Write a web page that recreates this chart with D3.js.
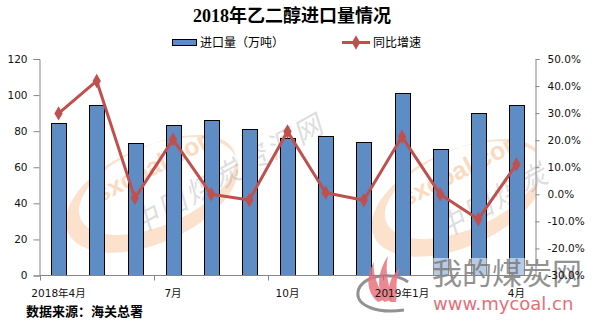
<!DOCTYPE html>
<html>
<head>
<meta charset="utf-8">
<script src="https://cdn.jsdelivr.net/npm/d3@7"></script>
<style>
  body { margin: 0; background: #fff; }
  svg { display: block; }
  .tick text { font-family: "DejaVu Sans", "Noto Sans CJK SC", sans-serif; font-size: 10.5px; fill: #111; }
</style>
</head>
<body>
<svg id="chart" width="601" height="322"></svg>
<script>
// Monthly ethylene glycol imports, Apr 2018 – Apr 2019
const months = ["2018-04", "2018-05", "2018-06", "2018-07", "2018-08", "2018-09", "2018-10",
                "2018-11", "2018-12", "2019-01", "2019-02", "2019-03", "2019-04"];
const importVolume = [84.4, 94.3, 73.3, 83.3, 86.0, 81.1, 76.1, 77.2, 73.9, 101.0, 70.0, 89.9, 94.3]; // 万吨
const yoyGrowth = [29.9, 41.9, -1.4, 20.3, 0.0, -2.1, 23.2, 0.6, -2.2, 21.3, 0.0, -9.2, 11.1];        // %
const xLabelIndex = [0, 3, 6, 9, 12];
const xLabelText = ["2018年4月", "7月", "10月", "2019年1月", "4月"];
const leftTicks = [0, 20, 40, 60, 80, 100, 120];
const rightTicks = [-30, -20, -10, 0, 10, 20, 30, 40, 50];

const svg = d3.select("#chart");
const plot = { left: 39.5, right: 535.5, top: 59, bottom: 275.5 };

const x = d3.scaleBand().domain(d3.range(months.length)).range([plot.left, plot.right]).padding(0);
const yL = d3.scaleLinear().domain([0, 120]).range([plot.bottom, plot.top]);
const yR = d3.scaleLinear().domain([-30, 50]).range([plot.bottom, plot.top]);
const axisColor = "#868686";

// ---- background watermark (sxcoal) ----
svg.append("defs").append("clipPath").attr("id", "plotClip")
  .append("rect").attr("x", 0).attr("y", 0).attr("width", plot.right).attr("height", 322);

function sxcoalMark(g, name, clipRing) {
  const ell = (cx, cy, rx, ry) =>
    `M${cx - rx},${cy} a${rx},${ry} 0 1,0 ${2 * rx},0 a${rx},${ry} 0 1,0 ${-2 * rx},0 Z`;
  // crescent ring
  const ringHolder = clipRing ? g.append("g").attr("clip-path", "url(#plotClip)") : g;
  ringHolder.append("g").attr("transform", g.attr("data-t"))
    .append("path")
    .attr("d", ell(0, 0, 92, 48) + ell(9, -7, 84, 40))
    .attr("fill-rule", "evenodd")
    .attr("transform", "rotate(-24)")
    .attr("fill", "#f8b483").attr("opacity", 0.4);
  const t = g.append("g").attr("transform", g.attr("data-t"));
  t.append("text")
    .attr("transform", "translate(-52,8) rotate(-27)")
    .attr("font-family", "Liberation Sans, Arial, sans-serif")
    .attr("font-weight", "bold").attr("font-size", 25)
    .attr("fill", "#f7a86a").attr("opacity", 0.42)
    .text("sxcoal.com");
  t.append("text")
    .attr("transform", "translate(-14,40) rotate(-29) skewX(-12)")
    .attr("font-family", "Noto Sans CJK SC, sans-serif")
    .attr("font-size", 28).attr("letter-spacing", 3)
    .attr("fill", "#9a9a9a").attr("opacity", 0.32)
    .text(name);
}
sxcoalMark(svg.append("g").attr("data-t", "translate(152,195)"), "中国煤炭资源网", false);
sxcoalMark(svg.append("g").attr("data-t", "translate(458,199)"), "中国煤炭", true);

// ---- bars ----
const barW = x.bandwidth() * 0.385;
svg.append("g").selectAll("rect").data(importVolume).join("rect")
  .attr("x", (d, i) => Math.round(x(i) + x.bandwidth() / 2 - barW / 2) + 0.5)
  .attr("y", d => Math.round(yL(d)) + 0.5)
  .attr("width", Math.round(barW))
  .attr("height", d => plot.bottom - Math.round(yL(d)) - 0.5)
  .attr("fill", "#5e8cc4").attr("stroke", "#000").attr("stroke-width", 1);

// ---- growth line ----
const red = "#c0504d";
const line = d3.line().x((d, i) => x(i) + x.bandwidth() / 2).y(d => yR(d));
svg.append("path").datum(yoyGrowth).attr("d", line)
  .attr("fill", "none").attr("stroke", red).attr("stroke-width", 3).attr("stroke-linejoin", "round");
const diamond = d3.symbol().type(d3.symbolDiamond).size(60);
svg.append("g").selectAll("path").data(yoyGrowth).join("path")
  .attr("d", diamond)
  .attr("transform", (d, i) => `translate(${x(i) + x.bandwidth() / 2},${yR(d)})`)
  .attr("fill", red);

// ---- mycoal logo (bottom right) ----
const logo = svg.append("g");
logo.append("rect").attr("x", 428).attr("y", 258).attr("width", 160).attr("height", 28)
  .attr("fill", "#fff").attr("opacity", 0.55);
// swoosh
logo.append("path")
  .attr("d", "M408,282 C392,270 360,276 358,292 C356,306 378,314 404,310")
  .attr("fill", "none").attr("stroke", "#777").attr("stroke-width", 3).attr("opacity", 0.8);
// flame
const flame = [
  "M378,302 C366,292 366,276 374,262 C372,276 380,288 384,300 Z",
  "M384,302 C376,288 378,270 388,256 C384,272 390,288 392,300 Z",
  "M390,302 C386,290 390,276 400,268 C394,282 398,292 396,302 Z"
];
logo.selectAll("path.fl").data(flame).join("path").attr("class", "fl")
  .attr("d", d => d).attr("fill", "#e8737c").attr("opacity", 0.85);
logo.append("text").attr("x", 432).attr("y", 284)
  .attr("font-family", "Noto Sans CJK SC, sans-serif").attr("font-size", 30)
  .attr("fill", "#777").attr("opacity", 0.8).text("我的煤炭网");
logo.append("text").attr("x", 433).attr("y", 310)
  .attr("font-family", "DejaVu Sans, sans-serif").attr("font-size", 18)
  .attr("fill", "#e2606c").attr("opacity", 0.9).text("www.mycoal.cn");

// ---- axes (drawn above the logo) ----
const gL = svg.append("g").attr("transform", `translate(${plot.left},0)`)
  .call(d3.axisLeft(yL).tickValues(leftTicks).tickSize(6).tickPadding(6).tickFormat(d3.format("d")));
const gR = svg.append("g").attr("transform", `translate(${plot.right},0)`)
  .call(d3.axisRight(yR).tickValues(rightTicks).tickSize(4).tickPadding(8).tickFormat(d => d.toFixed(1) + "%"));
[gL, gR].forEach(g => {
  g.select(".domain").attr("stroke", axisColor);
  g.selectAll(".tick line").attr("stroke", axisColor);
});

// category axis: ticks on quarter boundaries, labels on the month centres
const xb = svg.append("g");
xb.append("line").attr("x1", plot.left).attr("x2", plot.right)
  .attr("y1", plot.bottom).attr("y2", plot.bottom).attr("stroke", axisColor);
xb.selectAll("line.tk").data([0, 3, 6, 9, 12]).join("line").attr("class", "tk")
  .attr("x1", i => Math.round(x(i)) + 0.5).attr("x2", i => Math.round(x(i)) + 0.5)
  .attr("y1", plot.bottom).attr("y2", plot.bottom + 5).attr("stroke", axisColor);
xb.selectAll("text").data(xLabelIndex).join("text")
  .attr("x", i => x(i) + x.bandwidth() / 2).attr("y", 297)
  .attr("text-anchor", "middle")
  .attr("font-family", "DejaVu Sans, Noto Sans CJK SC, sans-serif").attr("font-size", 10.5)
  .attr("fill", "#111")
  .text((i, k) => xLabelText[k]);

// ---- title & legend ----
svg.append("text").attr("x", 292).attr("y", 22).attr("text-anchor", "middle")
  .attr("font-family", "Liberation Serif, Noto Sans CJK SC, serif").attr("font-weight", "bold")
  .attr("font-size", 18).attr("fill", "#000").text("2018年乙二醇进口量情况");

const lg = svg.append("g").attr("font-family", "Noto Sans CJK SC, sans-serif").attr("font-size", 12).attr("fill", "#000");
lg.append("rect").attr("x", 172.5).attr("y", 39.5).attr("width", 24).attr("height", 6)
  .attr("fill", "#5e8cc4").attr("stroke", "#000");
lg.append("text").attr("x", 200).attr("y", 47).text("进口量（万吨）");
lg.append("line").attr("x1", 342).attr("x2", 370).attr("y1", 42.5).attr("y2", 42.5)
  .attr("stroke", red).attr("stroke-width", 3);
lg.append("path").attr("d", diamond).attr("transform", "translate(356,42.5)").attr("fill", red);
lg.append("text").attr("x", 373).attr("y", 47).text("同比增速");

// ---- source note ----
svg.append("text").attr("x", 26).attr("y", 316)
  .attr("font-family", "Noto Sans CJK SC, sans-serif").attr("font-weight", "bold").attr("font-size", 13)
  .attr("fill", "#000").text("数据来源：海关总署");
</script>
</body>
</html>
